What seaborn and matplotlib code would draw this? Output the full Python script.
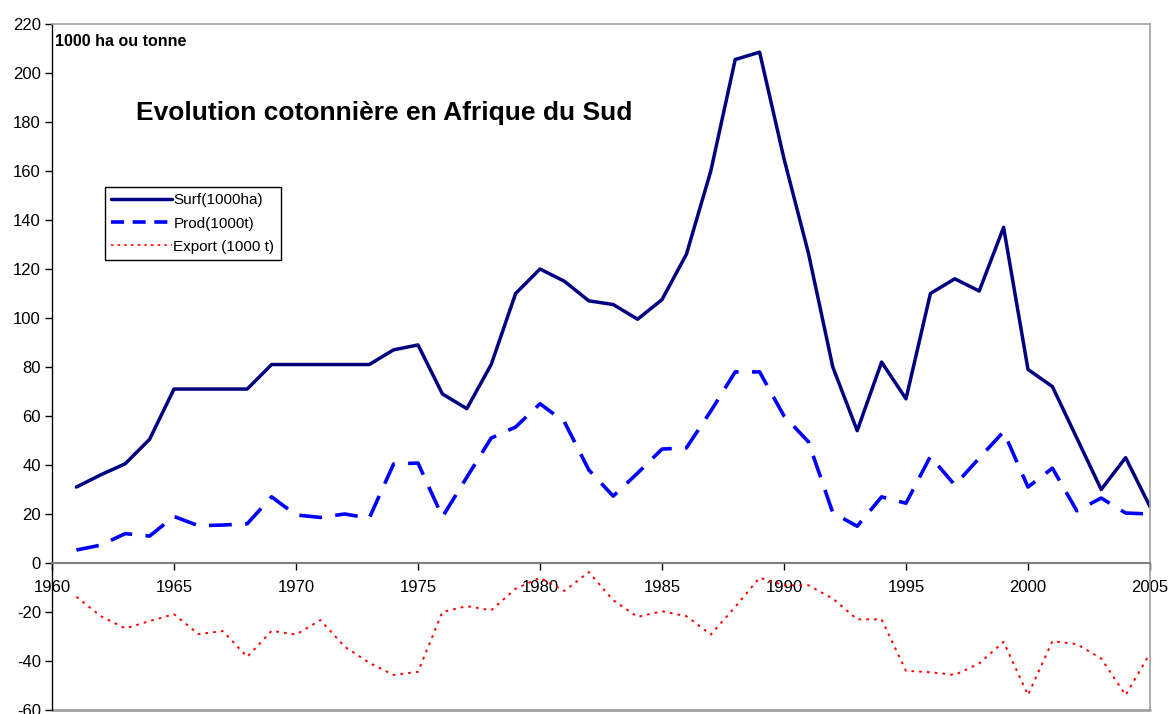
import matplotlib
matplotlib.use("Agg")
import matplotlib.pyplot as plt
import seaborn as sns
from matplotlib.lines import Line2D

years = list(range(1961, 2006))

surf = [31, 36, 40.5, 50.5, 71, 71, 71, 71, 81, 81,
        81, 81, 81, 87, 89, 69, 63, 81, 110, 120,
        115, 107, 105.5, 99.5, 107.5, 126, 160, 205.5, 208.5, 165,
        126.5, 80, 54, 82, 67, 110, 116, 111, 137, 79,
        72, 51, 30, 43, 23]

prod = [5.3, 7.3, 12, 11, 19, 15.2, 15.5, 16, 27, 19.6,
        18.6, 20, 18.3, 40.4, 40.8, 18.8, 35, 51, 55.5, 65,
        57.6, 38, 27.3, 36.7, 46.5, 47, 62, 78, 78, 60,
        49.5, 20.5, 15, 27, 24.4, 43.5, 31.8, 42.8, 53.6, 31,
        38.7, 21.3, 26.5, 20.4, 20]

export = [-13.8, -21.7, -26.7, -23.7, -20.9, -29, -27.8, -38.3, -27.7, -29.2,
          -23.3, -34.2, -40.7, -45.7, -44.4, -20, -17.6, -19.3, -10.5, -6,
          -11.4, -3.7, -15.2, -22, -19.7, -21.7, -29.2, -17.9, -6, -9.1,
          -9.1, -14.5, -23, -23, -44, -44.6, -45.7, -41, -32.2, -53.9,
          -31.9, -33.1, -39, -53.9, -36.9]

labels = ["Surf(1000ha)", "Prod(1000t)", "Export (1000 t)"]
colors = ["#000080", "#0000FF", "#FF0000"]

sns.set_style("white")
plt.rcParams['font.family'] = ['Liberation Sans', 'DejaVu Sans']
plt.rcParams['axes.unicode_minus'] = False
plt.rcParams['text.color'] = 'black'
plt.rcParams['xtick.color'] = 'black'
plt.rcParams['ytick.color'] = 'black'

fig = plt.figure(figsize=(11.7, 7.14), dpi=100)
ax = fig.add_axes([52 / 1170, 4 / 714, 1098 / 1170, 686 / 714])

sns.lineplot(x=years, y=surf, ax=ax, color=colors[0], linewidth=2.5)
sns.lineplot(x=years, y=prod, ax=ax, color=colors[1], linewidth=2.6, dashes=(6.3, 3.7))
sns.lineplot(x=years, y=export, ax=ax, color=colors[2], linewidth=1.4, dashes=(1.4, 2.6))

ax.set_xlim(1960, 2005)
ax.set_ylim(-60, 220)
ax.set_xticks(range(1960, 2006, 5))
ax.set_yticks(range(-60, 221, 20))

ax.spines['bottom'].set_position(('data', 0))
ax.spines['bottom'].set_color('#808080')
ax.spines['bottom'].set_linewidth(1.5)
ax.spines['left'].set_color('black')
ax.spines['left'].set_linewidth(1.0)
for s in ['top', 'right']:
    ax.spines[s].set_color('#a0a0a0')
    ax.spines[s].set_linewidth(1.2)
ax.axhline(-60, color='#a0a0a0', linewidth=2.0, clip_on=False)

ax.tick_params(axis='x', direction='out', length=5, width=1,
               labelsize=12, pad=7)
ax.tick_params(axis='y', direction='out', length=5, width=1,
               labelsize=12, pad=3)
ax.xaxis.set_ticks_position('bottom')
ax.yaxis.set_ticks_position('left')

handles = [Line2D([], [], color=colors[0], linewidth=2.5),
           Line2D([], [], color=colors[1], linewidth=2.6, dashes=(3.6, 2.4)),
           Line2D([], [], color=colors[2], linewidth=1.2, dashes=(1.5, 2.5))]
leg = ax.legend(handles, labels, loc='upper left', bbox_to_anchor=(0.048, 0.762),
                borderaxespad=0, fontsize=11, handlelength=4.0, handletextpad=0.1,
                labelspacing=0.6, borderpad=0.4, fancybox=False, framealpha=1)
leg.get_frame().set_edgecolor('black')
leg.get_frame().set_linewidth(1.0)

fig.text(0.328, 1 - 113 / 714, "Evolution cotonnière en Afrique du Sud",
         ha='center', va='center', fontsize=19, fontweight='bold')
fig.text(55 / 1170, 1 - 42 / 714, "1000 ha ou tonne",
         ha='left', va='center', fontsize=11.5, fontweight='bold')

fig.savefig("out.png", dpi=100)
